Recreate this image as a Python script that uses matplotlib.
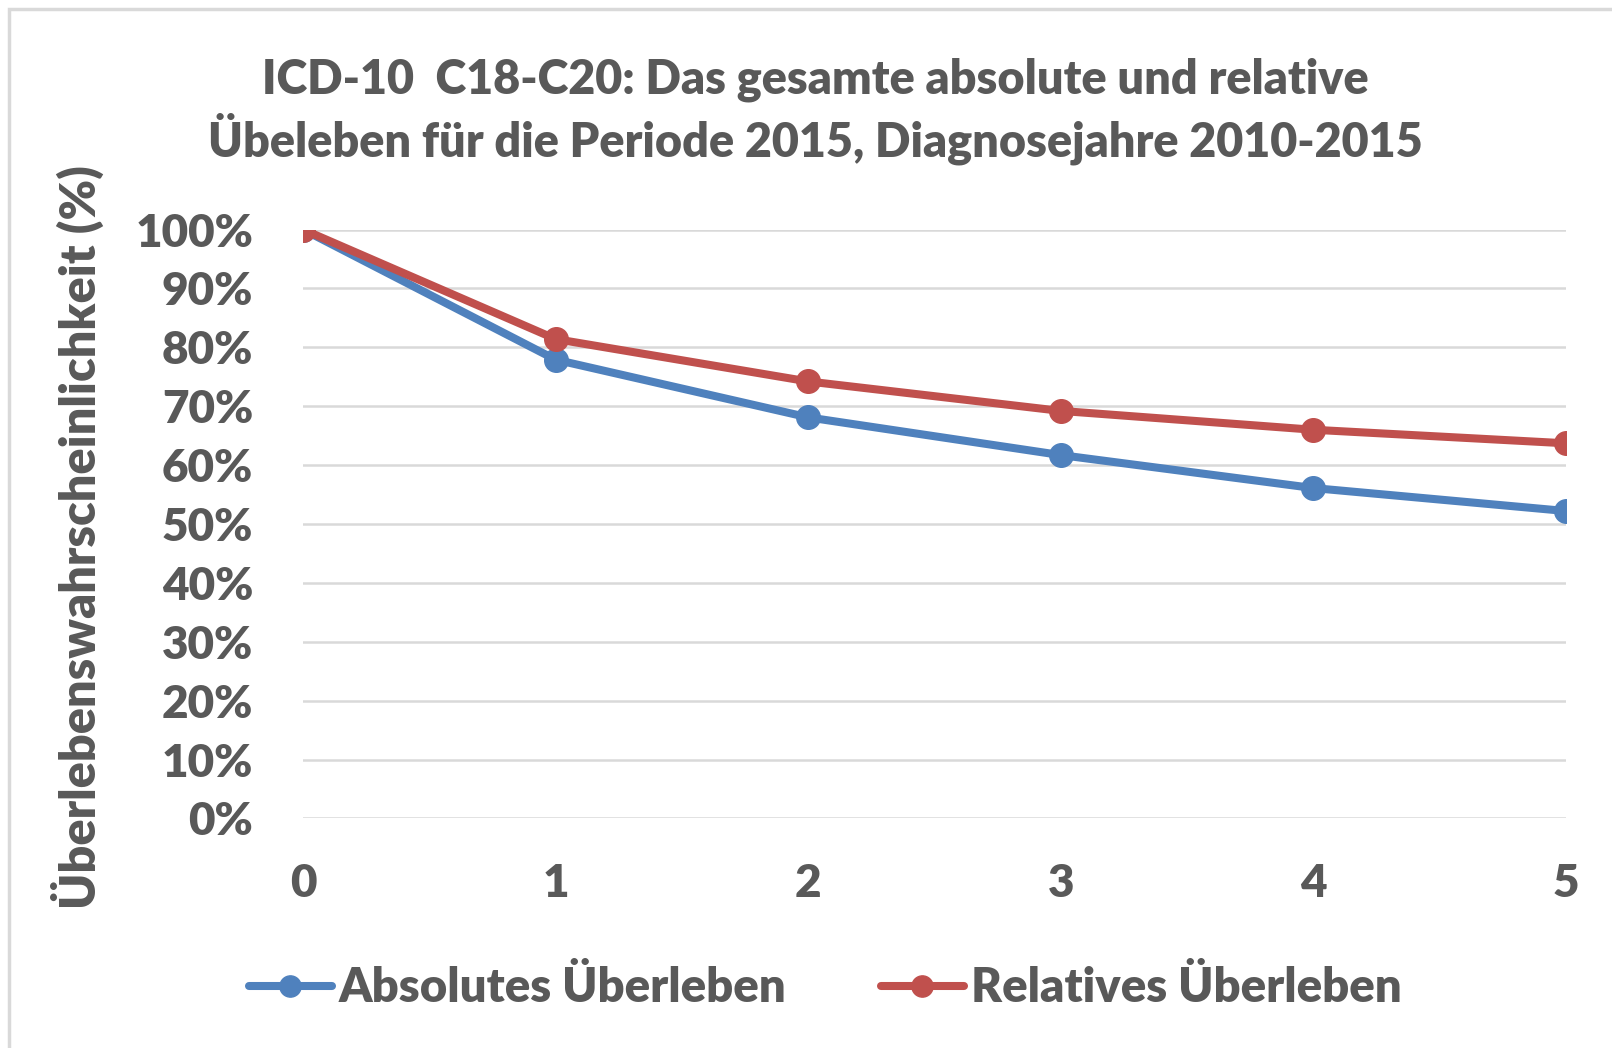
import matplotlib
matplotlib.use("Agg")
import matplotlib.pyplot as plt
from matplotlib.patches import Rectangle
from matplotlib.ticker import PercentFormatter

# data
years = [0, 1, 2, 3, 4, 5]
absolut = [100, 77.9, 68.1, 61.7, 56.1, 52.2]
relativ = [100, 81.4, 74.2, 69.2, 66.0, 63.7]
series_names = ["Absolutes Überleben", "Relatives Überleben"]
title = "ICD-10  C18-C20: Das gesamte absolute und relative\nÜbeleben für die Periode 2015, Diagnosejahre 2010-2015"
ylabel = "Überlebenswahrscheinlichkeit (%)"

gray = "#595959"
blue = "#4F81BD"
red = "#C0504D"
W = "heavy"

plt.rcParams["font.family"] = ["Lato", "DejaVu Sans"]
plt.rcParams["font.weight"] = W

fig = plt.figure(figsize=(16.12, 10.48), dpi=100)
ax = fig.add_axes([0.188, 0.219, 0.7835, 0.562])

# chart border
fig.patches.append(Rectangle((9 / 1612, -0.1), 1.2, 1.1 - 9 / 1048, transform=fig.transFigure,
                             fill=False, edgecolor="#D9D9D9", linewidth=2.5))

ax.plot(years, absolut, color=blue, lw=5.8, marker="o", ms=17, label=series_names[0],
        solid_capstyle="round", zorder=3)
ax.plot(years, relativ, color=red, lw=5.8, marker="o", ms=17, label=series_names[1],
        solid_capstyle="round", zorder=4)

ax.set_xlim(0, 5)
ax.set_ylim(0, 100)
ax.set_yticks(range(0, 101, 10))
ax.yaxis.set_major_formatter(PercentFormatter(decimals=0))
ax.set_xticks(years)
ax.grid(axis="y", color="#D9D9D9", lw=1.8)
ax.set_axisbelow(True)
for s in ax.spines.values():
    s.set_visible(False)
ax.tick_params(length=0, labelsize=33, colors=gray)
ax.tick_params(axis="y", pad=36)
ax.tick_params(axis="x", pad=32)
for lab in ax.get_xticklabels() + ax.get_yticklabels():
    lab.set_fontweight(W)
for lab in ax.get_xticklabels():
    lab.set_clip_on(False)

fig.text(0.506, 0.894, title, ha="center", va="center", fontsize=33.7, color=gray,
         fontweight=W, linespacing=1.25)
fig.text(0.048, 0.487, ylabel, rotation=90, ha="center", va="center", fontsize=35,
         color=gray, fontweight=W)

leg = fig.legend(loc="center", bbox_to_anchor=(0.512, 0.057), ncol=2, frameon=False,
                 fontsize=34, handlelength=1.75, handletextpad=0.15, columnspacing=2.0,
                 markerscale=0.9)
for t in leg.get_texts():
    t.set_color(gray)
    t.set_fontweight(W)

fig.savefig("out.png", dpi=100)
